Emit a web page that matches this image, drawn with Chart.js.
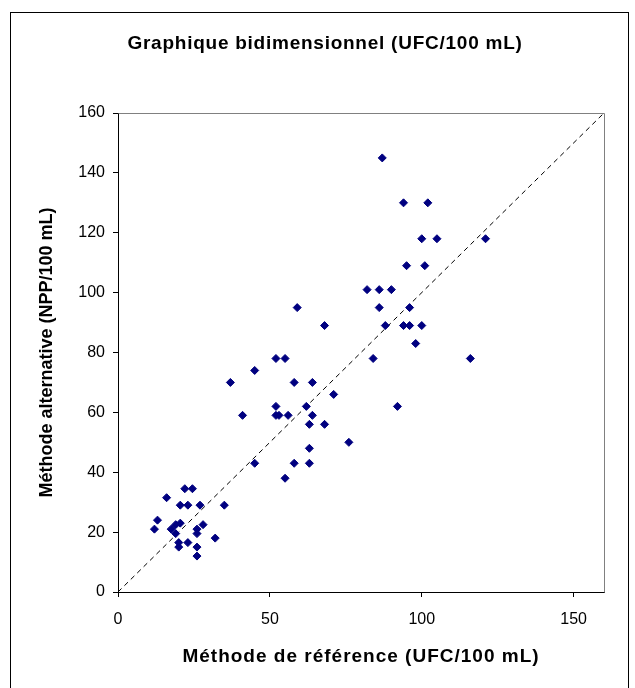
<!DOCTYPE html>
<html><head><meta charset="utf-8">
<script src="https://cdn.jsdelivr.net/npm/chart.js@4/dist/chart.umd.min.js"></script>
<style>html,body{margin:0;padding:0;background:#fff}canvas{display:block}</style>
</head><body>
<canvas id="c" width="635" height="688"></canvas>
<script>
const chartTitle = "Graphique bidimensionnel (UFC/100 mL)";
const xTitle = "Méthode de référence (UFC/100 mL)";
const yTitle = "Méthode alternative (NPP/100 mL)";
const xTicks = [0, 50, 100, 150];
const yTicks = [0, 20, 40, 60, 80, 100, 120, 140, 160];
const refX = [12, 13, 16, 17.5, 19, 19, 20.5, 20, 20, 20.5, 22, 23, 23, 24.5, 26, 26, 26, 26, 27, 28, 32, 35,
  37, 41, 45, 45, 52, 55, 52, 52, 53, 56, 55, 58, 58, 59, 62, 63, 63, 63, 64, 64, 68, 68, 71, 76,
  82, 84, 86, 86, 87, 88, 90, 92, 94, 94, 95, 96, 96, 98, 100, 100, 101, 102, 105, 116, 121];
const altY = [21, 24, 31.5, 21, 22.5, 19.5, 23, 16.5, 15, 29, 34.5, 16.5, 29, 34.5, 21, 19.5, 15, 12, 29, 22.5, 18, 29,
  70, 59, 74, 43, 78, 78, 62, 59, 59, 59, 38, 70, 43, 95, 62, 56, 48, 43, 70, 59, 89, 56, 66, 50,
  101, 78, 101, 95, 145, 89, 101, 62, 130, 89, 109, 95, 89, 83, 118, 89, 109, 130, 118, 78, 118];
const identityX = [0, 160];
const identityY = [0, 160];

const FONT = "'Liberation Sans', Arial, sans-serif";
const points = refX.map((x, i) => ({x: x, y: altY[i]}));
const diag = identityX.map((x, i) => ({x: x, y: identityY[i]}));

const framePlugin = {
  id: 'frame',
  beforeDraw(chart) {
    const ctx = chart.ctx;
    ctx.save();
    ctx.fillStyle = '#fff';
    ctx.fillRect(0, 0, chart.width, chart.height);
    ctx.strokeStyle = '#000';
    ctx.lineWidth = 1;
    ctx.strokeRect(10.5, 12.5, 618, 690);
    ctx.restore();
  },
  afterDraw(chart) {
    const ctx = chart.ctx, a = chart.chartArea;
    ctx.save();
    ctx.strokeStyle = '#808080';
    ctx.lineWidth = 1;
    ctx.beginPath();
    ctx.moveTo(Math.round(a.left) + 0.5, Math.round(a.top) + 0.5);
    ctx.lineTo(Math.round(a.right) + 0.5, Math.round(a.top) + 0.5);
    ctx.lineTo(Math.round(a.right) + 0.5, Math.round(a.bottom) + 0.5);
    ctx.stroke();
    ctx.fillStyle = '#000';
    ctx.textAlign = 'center';
    ctx.textBaseline = 'middle';
    ctx.font = "bold 19px " + FONT;
    ctx.letterSpacing = '0.75px';
    ctx.fillText(chartTitle, 325, 44);
    ctx.letterSpacing = '1px';
    ctx.fillText(xTitle, (a.left + a.right) / 2, 657);
    ctx.letterSpacing = '0px';
    ctx.restore();
  }
};

new Chart(document.getElementById('c'), {
  type: 'scatter',
  data: {
    datasets: [
      {
        label: 'points',
        data: points,
        pointStyle: 'rectRot',
        pointRadius: 4,
        pointHoverRadius: 4,
        backgroundColor: '#000080',
        borderColor: '#000080',
        borderWidth: 1,
        order: 1
      },
      {
        label: 'diag',
        type: 'line',
        data: diag,
        borderColor: '#000',
        borderWidth: 1,
        borderDash: [5, 4],
        pointRadius: 0,
        fill: false,
        order: 2
      }
    ]
  },
  options: {
    responsive: false,
    animation: false,
    layout: {padding: {top: 113, right: 31, bottom: 0, left: 0}},
    plugins: {legend: {display: false}, tooltip: {enabled: false}, title: {display: false}},
    scales: {
      x: {
        type: 'linear', min: 0, max: 160,
        afterBuildTicks: s => { s.ticks = xTicks.map(v => ({value: v})); },
        afterFit: s => { s.height = 96; },
        grid: {drawOnChartArea: false, drawTicks: true, tickLength: 5, color: '#000'},
        border: {display: true, color: '#000', width: 1},
        ticks: {color: '#000', font: {family: FONT, size: 16}, padding: 13, maxRotation: 0},
        title: {display: false}
      },
      y: {
        type: 'linear', min: 0, max: 160,
        afterBuildTicks: s => { s.ticks = yTicks.map(v => ({value: v})); },
        afterFit: s => { s.width = 118; },
        grid: {drawOnChartArea: false, drawTicks: true, tickLength: 5, color: '#000'},
        border: {display: true, color: '#000', width: 1},
        ticks: {color: '#000', font: {family: FONT, size: 16}, padding: 8},
        title: {display: true, text: yTitle, color: '#000', font: {family: FONT, size: 18, weight: 'bold'}, padding: {top: 36, bottom: 0}}
      }
    }
  },
  plugins: [framePlugin]
});
</script>
</body></html>
